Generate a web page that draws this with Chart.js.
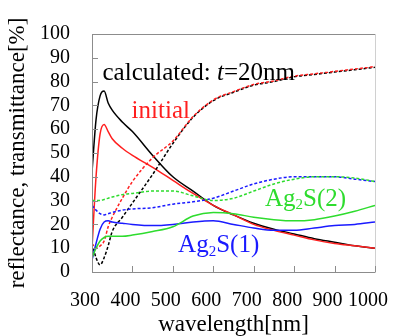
<!DOCTYPE html>
<html>
<head>
<meta charset="utf-8">
<script src="https://cdn.jsdelivr.net/npm/chart.js@4"></script>
<style>
  html, body { margin: 0; padding: 0; background: #fff; }
  #wrap { width: 412px; height: 336px; position: relative; }
</style>
</head>
<body>
<div id="wrap"><canvas id="spectraChart"></canvas></div>
<script>
const wavelengths = [300, 310, 320, 330, 340, 350, 375, 400, 450, 500, 550, 600, 650, 700, 750, 800, 850, 900, 950, 1000];

// reflectance (solid) and transmittance (dashed), %
const calcR = [42, 64, 74, 76, 71, 68, 63, 59, 49, 40, 34, 28, 24, 20.5, 18, 16, 14, 12.5, 11, 10];
const calcT = [12, 6, 3, 6, 11, 17, 23, 29, 41, 54, 65, 72, 75.5, 78.5, 80, 82, 83, 84, 85, 86];
const initR = [10, 40, 58, 62, 59, 56, 52, 49, 44, 38.5, 33, 28, 24, 20, 17.5, 15.5, 13.5, 12, 11, 10];
const initT = [12, 10, 11, 13, 19, 23, 31, 38, 48, 55, 65.3, 72.3, 75.8, 78.8, 80.3, 82.3, 83.3, 84.3, 85.3, 86.3];
const ag1R = [5, 12, 18, 21, 21.5, 21, 20.5, 20, 19.5, 20, 21, 21.5, 20, 18.5, 17.5, 17.5, 18.5, 19.5, 20, 21];
const ag1T = [28, 26, 24.5, 24, 24.5, 25, 26, 26.5, 27, 28.5, 29.5, 31, 34, 37, 39, 40, 40, 40, 39, 38];
const ag2R = [6, 10, 13, 14.5, 15, 15, 15, 15.5, 17, 19, 23.5, 25, 24.5, 23, 22, 21.5, 22, 23.5, 25.5, 28];
const ag2T = [30, 30, 30, 30.5, 31, 31.5, 32.5, 33, 34, 34, 32, 30, 31, 34, 37, 39, 40, 40, 39.5, 38];

const xTicks = [300, 400, 500, 600, 700, 800, 900, 1000];
const yTicks = [0, 10, 20, 30, 40, 50, 60, 70, 80, 90, 100];

const serif = "'Liberation Serif', 'Times New Roman', serif";
const RED = '#ff1f1f', BLUE = '#1a1aff', GREEN = '#2edc2e';

Chart.defaults.font.family = serif;

function pts(values) {
  return wavelengths.map((w, i) => ({ x: w, y: values[i] }));
}

function series(values, color, dashed) {
  return {
    data: pts(values),
    borderColor: color,
    borderWidth: 1.5,
    borderDash: dashed ? [3, 2] : [],
    pointRadius: 0,
    cubicInterpolationMode: 'monotone',
    fill: false,
  };
}

// text labels inside the plot, frame and inward tick marks
const decorations = {
  id: 'decorations',
  afterDatasetsDraw(chart) {
    const { ctx, chartArea: a, scales: { x, y } } = chart;
    ctx.save();

    // frame
    ctx.lineWidth = 1;
    ctx.strokeStyle = '#8c8c8c';
    ctx.beginPath();
    ctx.moveTo(a.left + 0.5, a.bottom + 0.5);
    ctx.lineTo(a.left + 0.5, a.top + 0.5);
    ctx.lineTo(a.right + 0.5, a.top + 0.5);
    ctx.moveTo(a.left + 0.5, a.bottom + 0.5);
    ctx.lineTo(a.right + 0.5, a.bottom + 0.5);
    ctx.stroke();
    ctx.strokeStyle = '#d0d0d0';
    ctx.beginPath();
    ctx.moveTo(a.right + 0.5, a.top);
    ctx.lineTo(a.right + 0.5, a.bottom);
    ctx.stroke();

    // inward ticks
    ctx.strokeStyle = '#8c8c8c';
    ctx.beginPath();
    xTicks.forEach(v => {
      const px = Math.round(x.getPixelForValue(v)) + 0.5;
      ctx.moveTo(px, a.bottom);
      ctx.lineTo(px, a.bottom - 6);
    });
    yTicks.forEach(v => {
      const py = Math.round(y.getPixelForValue(v)) + 0.5;
      ctx.moveTo(a.left, py);
      ctx.lineTo(a.left + 6, py);
    });
    ctx.stroke();

    // annotations
    ctx.textBaseline = 'middle';
    ctx.textAlign = 'left';
    const put = (parts, wl, val, color) => {
      let px = x.getPixelForValue(wl);
      const py = y.getPixelForValue(val);
      ctx.fillStyle = color;
      parts.forEach(p => {
        ctx.font = (p.italic ? 'italic ' : '') + (p.sub ? 15 : 25) + 'px ' + serif;
        ctx.fillText(p.t, px, py + (p.sub ? 6 : 0));
        px += ctx.measureText(p.t).width;
      });
    };
    put([{ t: 'calculated: ' }, { t: 't', italic: true }, { t: '=20nm' }], 326, 83.5, '#000');
    put([{ t: 'initial' }], 398, 67.5, RED);
    put([{ t: 'Ag' }, { t: '2', sub: true }, { t: 'S(2)' }], 728, 30.5, GREEN);
    put([{ t: 'Ag' }, { t: '2', sub: true }, { t: 'S(1)' }], 513, 11, BLUE);

    ctx.restore();
  },
};

new Chart(document.getElementById('spectraChart').getContext('2d'), {
  type: 'line',
  data: {
    datasets: [
      series(ag2T, GREEN, true),
      series(ag1T, BLUE, true),
      series(ag2R, GREEN, false),
      series(ag1R, BLUE, false),
      series(initT, RED, true),
      series(calcT, '#000', true),
      series(initR, RED, false),
      series(calcR, '#000', false),
    ],
  },
  options: {
    responsive: true,
    maintainAspectRatio: false,
    animation: false,
    layout: { padding: { top: 23, right: 26, left: 0, bottom: 0 } },
    plugins: { legend: { display: false }, tooltip: { enabled: false } },
    scales: {
      x: {
        type: 'linear',
        min: 300,
        max: 1000,
        afterBuildTicks: (s) => { s.ticks = xTicks.map(v => ({ value: v })); },
        afterFit: (s) => { s.height = 64; },
        grid: { display: false, drawTicks: false },
        border: { display: false },
        ticks: {
          color: '#000', font: { family: serif, size: 20 }, padding: 17, labelOffset: -7,
          maxRotation: 0, autoSkip: false, callback: (v) => String(v),
        },
        title: { display: true, text: 'wavelength[nm]', color: '#000', font: { family: serif, size: 23, lineHeight: 1 }, padding: { top: 0, bottom: 0 } },
      },
      y: {
        min: 0,
        max: 100,
        afterBuildTicks: (s) => { s.ticks = yTicks.map(v => ({ value: v })); },
        afterFit: (s) => { s.width = 92; },
        grid: { display: false, drawTicks: false },
        border: { display: false },
        ticks: { color: '#000', font: { family: serif, size: 20 }, padding: 22, autoSkip: false, callback: (v) => String(v) },
        title: { display: true, text: 'reflectance, transmittance[%]', color: '#000', font: { family: serif, size: 23 }, padding: { top: 4, bottom: 0 } },
      },
    },
  },
  plugins: [decorations],
});
</script>
</body>
</html>
